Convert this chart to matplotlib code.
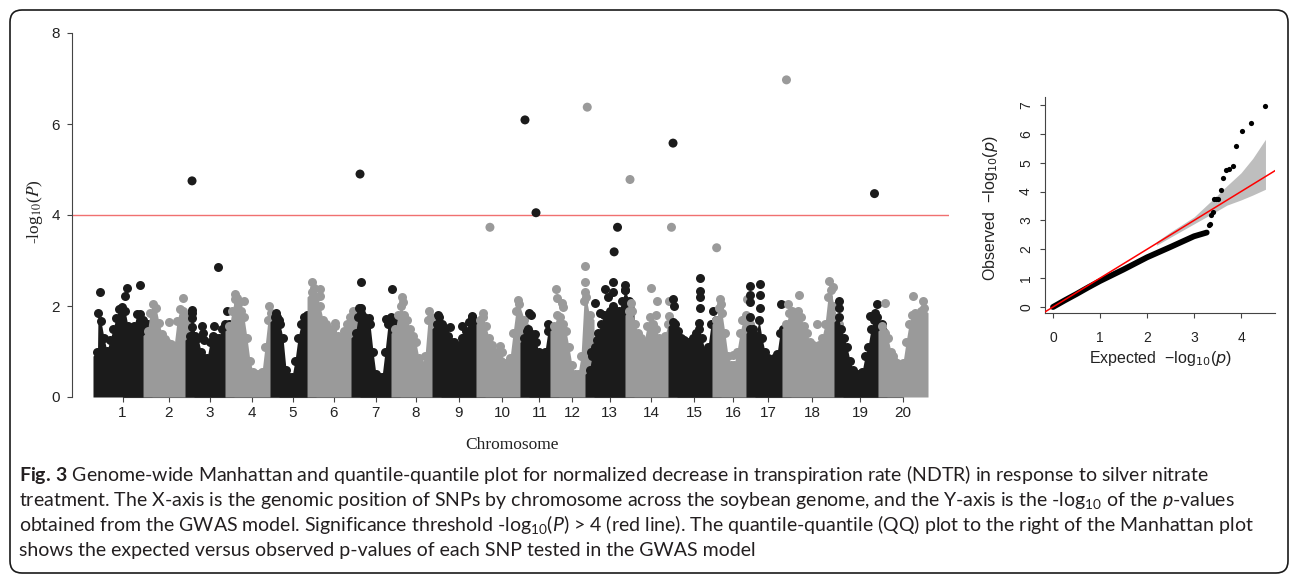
import numpy as np
import matplotlib.pyplot as plt
from matplotlib.patches import FancyBboxPatch
from matplotlib.transforms import IdentityTransform

plt.rcParams['font.family'] = ['Liberation Sans', 'DejaVu Sans']
plt.rcParams['mathtext.fontset'] = 'custom'
plt.rcParams['mathtext.rm'] = 'Lato'
plt.rcParams['mathtext.it'] = 'Lato:italic'
plt.rcParams['mathtext.bf'] = 'Lato:bold'

# ---------------- data ----------------
# SNP span of each soybean chromosome (Mb)
chrom_len = [57.7, 48.4, 46.1, 51.9, 42.7, 50.7, 46.1, 47.3, 50.7, 50.7,
             34.6, 40.4, 46.1, 49.6, 50.7, 39.2, 41.5, 60.0, 50.7, 47.3]
chrom_names = [str(i) for i in range(1, 21)]

# upper envelope of the dense SNP cloud, per chromosome (position Mb, -log10 P)
env_pos = [
    [0, 0.6, 4.0, 7.5, 10.9, 14.4, 17.9, 21.3, 24.8, 28.2, 31.7, 35.2, 38.6, 42.1, 45.5, 49.0, 52.5, 57.7],
    [0, 2.9, 6.3, 9.8, 13.3, 16.7, 20.2, 23.6, 27.1, 30.6, 34.0, 37.5, 40.9, 44.4, 48.4],
    [0, 2.9, 6.3, 9.8, 13.3, 16.7, 20.2, 23.6, 27.1, 30.6, 34.0, 37.5, 40.9, 46.1],
    [0, 2.9, 6.3, 9.8, 13.3, 16.7, 20.2, 23.6, 27.1, 30.6, 34.0, 37.5, 40.9, 44.4, 47.9, 51.9],
    [0, 2.9, 6.3, 9.8, 13.3, 16.7, 20.2, 23.6, 27.1, 30.6, 34.0, 37.5, 42.7],
    [0, 2.9, 6.3, 9.8, 13.3, 16.7, 20.2, 23.6, 27.1, 30.6, 34.0, 37.5, 40.9, 44.4, 47.9, 50.7],
    [0, 2.9, 6.3, 9.8, 13.3, 16.7, 20.2, 23.6, 27.1, 30.6, 34.0, 37.5, 40.9, 46.1],
    [0, 2.9, 6.3, 9.8, 13.3, 16.7, 20.2, 23.6, 27.1, 30.6, 34.0, 37.5, 40.9, 47.3],
    [0, 2.9, 6.3, 9.8, 13.3, 16.7, 20.2, 23.6, 27.1, 30.6, 34.0, 37.5, 40.9, 44.4, 50.7],
    [0, 2.9, 6.3, 9.8, 13.3, 16.7, 20.2, 23.6, 27.1, 30.6, 34.0, 37.5, 40.9, 44.4, 50.7],
    [0, 2.9, 6.3, 9.8, 13.3, 16.7, 20.2, 23.6, 27.1, 30.6, 34.6],
    [0, 2.9, 6.3, 9.8, 13.3, 16.7, 20.2, 23.6, 27.1, 30.6, 34.0, 36.3, 40.4],
    [0, 2.9, 6.3, 9.8, 13.3, 16.7, 20.2, 23.6, 27.1, 30.6, 34.0, 37.5, 40.9, 46.1],
    [0, 2.9, 6.3, 9.8, 13.3, 16.7, 20.2, 23.6, 27.1, 30.6, 34.0, 37.5, 40.9, 44.4, 49.6],
    [0, 2.9, 6.3, 9.8, 13.3, 16.7, 20.2, 23.6, 27.1, 30.6, 34.0, 37.5, 40.9, 44.4, 50.7],
    [0, 2.9, 6.3, 9.8, 13.3, 16.7, 20.2, 23.6, 27.1, 30.6, 34.0, 39.2],
    [0, 2.9, 6.3, 9.8, 13.3, 16.7, 20.2, 23.6, 27.1, 30.6, 34.0, 37.5, 41.5],
    [0, 2.9, 6.3, 9.8, 13.3, 16.7, 20.2, 23.6, 27.1, 30.6, 34.0, 37.5, 40.9, 44.4, 47.9, 51.3, 54.8, 60.0],
    [0, 2.9, 6.3, 9.8, 13.3, 16.7, 20.2, 23.6, 27.1, 30.6, 34.0, 37.5, 40.9, 44.4, 50.7],
    [0, 2.9, 6.3, 9.8, 13.3, 16.7, 20.2, 23.6, 27.1, 30.6, 34.0, 37.5, 40.9, 44.4, 47.3],
]
env_h = [
    [1.0, 1.85, 1.67, 1.30, 1.01, 1.25, 1.49, 1.74, 1.93, 1.97, 1.90, 1.56, 1.45, 1.56, 1.82, 1.83, 1.7, 1.6],
    [1.45, 1.85, 2.04, 1.96, 1.63, 1.38, 1.27, 1.19, 1.16, 1.12, 1.67, 1.93, 1.89, 1.8, 1.8],
    [1.35, 1.85, 1.35, 1.3, 1.0, 0.85, 0.85, 1.2, 1.35, 1.3, 1.3, 1.5, 1.6, 1.6],
    [1.55, 1.9, 2.15, 2.05, 1.9, 1.75, 1.3, 0.8, 0.55, 0.5, 0.5, 0.55, 1.1, 1.7, 1.85, 1.6],
    [1.75, 1.75, 1.6, 1.3, 0.6, 0.45, 0.45, 0.8, 1.3, 1.6, 1.75, 1.8, 1.7],
    [2.3, 2.4, 2.2, 2.0, 1.7, 1.6, 1.5, 1.45, 1.55, 1.35, 1.3, 1.45, 1.6, 1.75, 1.9, 1.8],
    [1.4, 1.75, 1.85, 1.75, 1.7, 1.6, 1.0, 0.5, 0.45, 0.45, 1.0, 1.6, 1.75, 1.7],
    [1.5, 1.8, 2.0, 1.8, 1.7, 1.5, 1.35, 1.2, 0.85, 0.7, 0.9, 1.7, 1.75, 1.6],
    [1.6, 1.75, 1.6, 1.5, 1.35, 1.2, 1.2, 1.1, 1.15, 1.3, 1.45, 1.65, 1.75, 1.65, 1.6],
    [1.7, 1.75, 1.55, 1.3, 1.15, 1.0, 0.9, 0.8, 0.75, 0.75, 0.85, 1.4, 1.9, 2.05, 1.7],
    [1.3, 1.45, 1.4, 1.3, 1.2, 1.0, 0.95, 1.0, 1.45, 1.5, 1.2],
    [1.55, 1.8, 1.75, 1.6, 1.45, 1.1, 0.7, 0.5, 0.5, 0.9, 2.1, 2.2, 1.8],
    [0.6, 0.9, 1.1, 1.4, 1.6, 1.8, 1.8, 1.9, 2.0, 1.9, 1.9, 2.1, 2.35, 2.1],
    [1.9, 1.9, 1.6, 1.4, 1.3, 1.2, 1.55, 1.75, 1.6, 1.5, 1.3, 1.2, 1.35, 1.6, 1.5],
    [1.65, 1.6, 1.45, 1.3, 1.25, 1.2, 1.2, 1.3, 1.4, 1.5, 1.3, 1.0, 1.1, 1.6, 1.7],
    [1.7, 1.95, 1.85, 1.4, 0.9, 0.7, 0.7, 1.0, 1.4, 1.7, 1.8, 1.6],
    [1.5, 1.5, 1.35, 1.7, 1.3, 1.0, 0.85, 0.8, 0.85, 0.95, 1.4, 1.5, 1.5],
    [1.6, 1.85, 1.9, 1.75, 1.9, 1.75, 1.55, 1.4, 1.2, 1.15, 1.1, 1.15, 1.3, 1.6, 2.2, 2.35, 2.0, 1.6],
    [1.75, 1.5, 1.3, 1.1, 0.8, 0.6, 0.5, 0.5, 0.55, 0.9, 1.1, 1.5, 1.7, 1.75, 1.6],
    [1.55, 1.4, 1.3, 1.0, 0.8, 0.75, 0.7, 0.75, 1.2, 1.6, 1.8, 1.85, 1.8, 1.9, 1.95],
]

# isolated SNPs sticking out above the cloud (position Mb, -log10 P)
top_pos = [
    [2.9, 33.7, 31.7, 49.0],
    [24.8, 40.9],
    [2.9, 2.9, 2.9, 14.4, 15.6, 16.7, 28.2, 43.2, 33.2],
    [6.3, 9.2, 16.7, 5.2, 45.5],
    [1.7, 5.2],
    [0.9, 9.2, 9.8, 27.1],
    [6.3, 3.5, 6.3, 41.7, 35.2, 15.6],
    [7.1, 8.1, 38.6],
    [1.7, 15.6, 29.1, 40.6, 29.1],
    [22.5, 24.4, 43.2, 2.9],
    [5.2, 7.5, 27.4, 12.1, 3.7],
    [1.7, 2.5, 8.6, 9.8, 35.2, 35.2, 35.2],
    [6.3, 17.9, 27.4, 27.4, 40.9, 40.9, 8.6, 1.7, 21.3, 12.1],
    [24.4, 31.3, 45.9, 45.9, 1.7, 30.6],
    [0.9, 31.7, 31.7, 31.7, 31.7, 30.6, 46.3, 2.1],
    [4.0, 5.2, 34.8, 19.0, 29.1],
    [0, 0, 0, 11.0, 11.0, 11.0, 35.2, 0],
    [14.4, 35.5, 49.3, 54.0, 1.7],
    [0.9, 0.9, 44.0, 42.1, 36.3],
    [2.9, 35.5, 47.1, 11.8],
]
top_h = [
    [2.31, 2.40, 2.22, 2.47],
    [1.65, 2.17],
    [1.91, 1.73, 1.53, 1.55, 1.4, 1.25, 1.55, 1.9, 2.85],
    [2.27, 2.17, 2.12, 1.6, 2.0],
    [1.85, 1.7],
    [2.53, 2.37, 2.22, 1.62],
    [2.53, 1.95, 1.95, 2.37, 1.72, 1.74],
    [2.2, 2.08, 1.89],
    [1.80, 1.53, 1.55, 1.77, 1.3],
    [1.12, 0.98, 2.14, 1.85],
    [1.85, 1.8, 1.6, 1.38, 1.49],
    [2.37, 2.17, 2.06, 1.98, 2.89, 2.53, 2.31],
    [2.06, 2.38, 2.53, 2.31, 2.47, 2.36, 1.25, 1.0, 2.2, 1.85],
    [2.39, 2.12, 2.12, 1.77, 2.06, 1.8],
    [2.16, 2.61, 2.34, 2.2, 1.95, 1.62, 1.88, 2.0],
    [2.16, 2.05, 2.16, 0.92, 1.69],
    [2.45, 2.25, 2.08, 2.49, 2.25, 1.95, 2.05, 1.75],
    [2.25, 1.6, 2.56, 2.42, 2.05],
    [2.1, 1.95, 2.04, 1.84, 1.78],
    [2.06, 2.23, 2.1, 0.9],
]

# strongest associations
hit_chr = [3, 7, 10, 11, 11, 12, 13, 13, 14, 14, 15, 16, 18, 19]
hit_pos = [2.9, 5.2, 10.9, 0.6, 13.3, 37.8, 32.3, 28.4, 0.6, 48.4, 0.6, 0.2, 0.0, 41.5]
hit_h = [4.75, 4.90, 3.73, 6.09, 4.05, 6.37, 3.73, 3.19, 4.78, 3.73, 5.58, 3.28, 6.97, 4.47]
threshold = 4

# QQ plot
qq_bulk_x = [0.0, 0.25, 0.5, 0.75, 1.0, 1.5, 2.0, 2.5, 3.0, 3.27]
qq_bulk_y = [0.0, 0.23, 0.45, 0.68, 0.9, 1.3, 1.72, 2.08, 2.45, 2.58]
qq_top_x = [3.32, 3.34, 3.37, 3.40, 3.43, 3.47, 3.52, 3.57, 3.62, 3.68, 3.75, 3.83, 3.90, 4.03, 4.21, 4.51]
qq_top_y = [2.85, 2.89, 3.19, 3.28, 3.73, 3.73, 3.73, 4.05, 4.47, 4.75, 4.78, 4.90, 5.58, 6.09, 6.37, 6.97]
ci_x = [2.2, 2.5, 3.0, 3.5, 3.7, 4.0, 4.25, 4.52]
ci_lo = [2.14, 2.42, 2.88, 3.34, 3.53, 3.71, 3.88, 4.08]
ci_hi = [2.26, 2.6, 3.12, 3.88, 4.2, 4.65, 5.15, 5.81]

caption = [
    r"$\mathbf{Fig.\,3}$ Genome-wide Manhattan and quantile-quantile plot for normalized decrease in transpiration rate (NDTR) in response to silver nitrate",
    r"treatment. The X-axis is the genomic position of SNPs by chromosome across the soybean genome, and the Y-axis is the -log$_{10}$ of the $p$-values",
    r"obtained from the GWAS model. Significance threshold -log$_{10}$$(P)$ > 4 (red line). The quantile-quantile (QQ) plot to the right of the Manhattan plot",
    "shows the expected versus observed p-values of each SNP tested in the GWAS model",
]

# ---------------- figure ----------------
W, H = 1293, 576
fig = plt.figure(figsize=(W / 100, H / 100), dpi=100)


def fx(px):
    return px / W


def fy(py):
    return 1 - py / H


dark, grey = '#1b1b1b', '#9a9a9a'
axcol = '#444444'

# Manhattan
ax = fig.add_axes([fx(72), fy(397), fx(949) - fx(72), fy(33) - fy(397)])
offsets = np.concatenate([[0], np.cumsum(chrom_len)[:-1]])
total = sum(chrom_len)
ax.set_xlim(-29.4, total + 29.4)
ax.set_ylim(0, 8)

dot_s = 42
rad = 5.2  # one dot radius in Mb, so the cloud edges are round like the dots
for i in range(20):
    col = dark if i % 2 == 0 else grey
    z = 3 + i * 0.1
    x = offsets[i] + np.array(env_pos[i])
    y = np.array(env_h[i])
    xf = np.concatenate([[x[0] - rad], x, [x[-1] + rad]])
    yf = np.concatenate([[y[0] - 0.1], y, [y[-1] - 0.1]])
    ax.fill_between(xf, 0, yf, color=col, lw=0, zorder=z)
    ax.scatter(x, y, s=dot_s, color=col, lw=0, zorder=z)
    ax.scatter(offsets[i] + np.array(top_pos[i]), top_h[i], s=dot_s,
               color=col, lw=0, zorder=z)

hx = [offsets[c - 1] + p for c, p in zip(hit_chr, hit_pos)]
hc = [dark if c % 2 == 1 else grey for c in hit_chr]
ax.scatter(hx, hit_h, s=dot_s, c=hc, lw=0, zorder=6, clip_on=False)

ax.axhline(threshold, color='#f07070', lw=1.0, zorder=1.5)

centers = offsets + np.array(chrom_len) / 2
for s in ['top', 'right']:
    ax.spines[s].set_visible(False)
ax.spines['left'].set_bounds(0, 8)
ax.spines['bottom'].set_bounds(centers[0], centers[-1])
for s in ['left', 'bottom']:
    ax.spines[s].set_color(axcol)
    ax.spines[s].set_linewidth(0.8)
ax.set_xticks(centers)
ax.set_xticklabels(chrom_names)
ax.set_yticks([0, 2, 4, 6, 8])
ax.tick_params(direction='out', length=3.6, width=0.8, color=axcol,
               labelsize=11, labelcolor='#222222')
ax.tick_params(axis='x', pad=3)
ax.tick_params(axis='y', pad=5)
ax.patch.set_visible(False)

fig.text(fx(35), fy(212), '-log$_{10}$($P$)', rotation=90, ha='center', va='center',
         family='Liberation Serif', fontsize=12.5, math_fontfamily='stix', color='#222222')
fig.text(fx(512), fy(445), 'Chromosome', ha='center', va='center',
         family='Liberation Serif', fontsize=12.5, color='#222222')

# QQ plot
qx = fig.add_axes([fx(1045), fy(313), fx(1275) - fx(1045), fy(97) - fy(313)])
qx.set_xlim(-0.170, 4.723)
qx.set_ylim(-0.208, 7.277)
qx.fill_between(ci_x, ci_lo, ci_hi, color='#bebebe', lw=0, zorder=1)
qx.plot(qq_bulk_x, qq_bulk_y, color='black', lw=4.2, solid_capstyle='round', zorder=2)
qx.scatter(qq_top_x, qq_top_y, s=14, color='black', lw=0, zorder=2, clip_on=False)
qx.axline((0, 0), slope=1, color='red', lw=1.1, zorder=3)
for s in ['top', 'right']:
    qx.spines[s].set_visible(False)
for s in ['left', 'bottom']:
    qx.spines[s].set_color(axcol)
    qx.spines[s].set_linewidth(0.8)
qx.set_xticks(range(5))
qx.set_yticks(range(8))
qx.tick_params(direction='out', length=3.6, width=0.8, color=axcol,
               labelsize=10, labelcolor='#222222')
qx.tick_params(axis='x', pad=9)
qx.tick_params(axis='y', pad=5)
for t in qx.get_yticklabels():
    t.set_rotation(90)
    t.set_va('center')
qx.patch.set_visible(False)

fig.text(fx(1160), fy(359), 'Expected  \u2212log$_{10}$($p$)', ha='center', va='center',
         fontsize=11.5, math_fontfamily='dejavusans', color='#222222')
fig.text(fx(990), fy(208), 'Observed  \u2212log$_{10}$($p$)', rotation=90, ha='center',
         va='center', fontsize=11.5, math_fontfamily='dejavusans', color='#222222')

# caption
for k, line in enumerate(caption):
    fig.text(fx(19), fy(481.5 + 24.8 * k), line, ha='left', va='baseline',
             family='Lato', fontsize=14, color='#231f20')

# frame
frame = FancyBboxPatch((10, 3), 1278, 563, boxstyle='round,pad=0,rounding_size=12',
                       transform=IdentityTransform(), fill=False, ec='#1a1a1a', lw=1.2)
fig.add_artist(frame)

fig.savefig('out.png', dpi=100)
